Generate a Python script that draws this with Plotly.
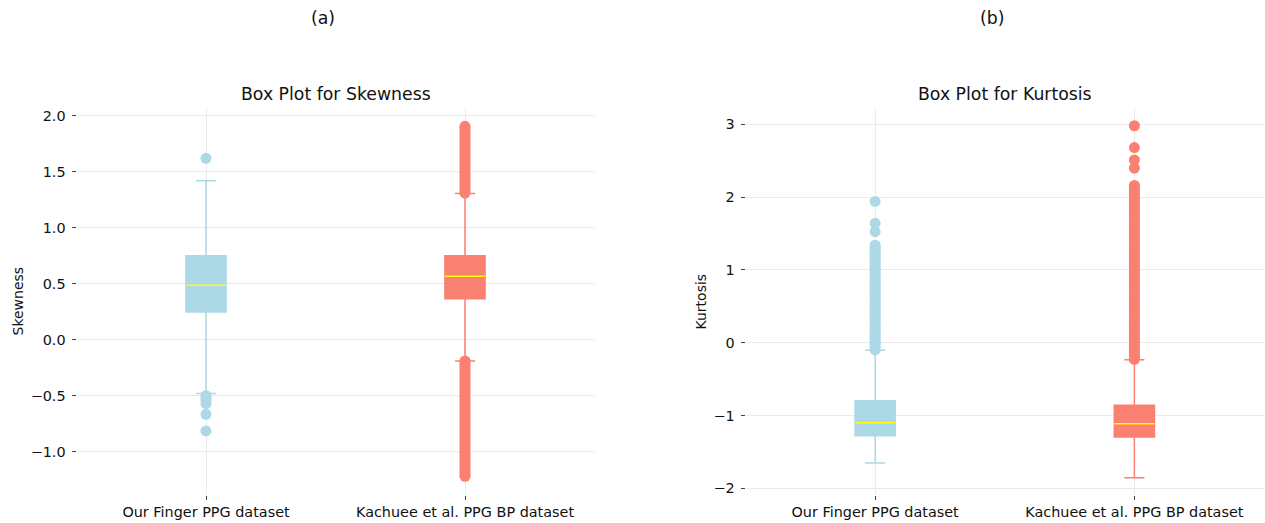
import plotly.graph_objects as go

# ---- data -------------------------------------------------------------
datasets = ["Our Finger PPG dataset", "Kachuee et al. PPG BP dataset"]
box_colors = ["#ADD8E6", "#FA8072"]

# Skewness: box statistics per dataset
skew_q1 = [0.247, 0.366]
skew_median = [0.486, 0.566]
skew_q3 = [0.750, 0.750]
skew_low = [-0.480, -0.190]
skew_high = [1.420, 1.305]

# Skewness outliers
skew_out_finger = [1.62, -0.50, -0.52, -0.54, -0.57, -0.666, -0.815]
skew_out_kachuee = [
    1.31, 1.33, 1.35, 1.37, 1.39, 1.41, 1.43, 1.45, 1.47, 1.49, 1.51, 1.53,
    1.55, 1.57, 1.59, 1.61, 1.63, 1.65, 1.67, 1.69, 1.71, 1.73, 1.75, 1.77,
    1.79, 1.81, 1.83, 1.85, 1.87, 1.89, 1.905,
    -0.19, -0.21, -0.23, -0.25, -0.27, -0.29, -0.31, -0.33, -0.35, -0.37,
    -0.39, -0.41, -0.43, -0.45, -0.47, -0.49, -0.51, -0.53, -0.55, -0.57,
    -0.59, -0.61, -0.63, -0.65, -0.67, -0.69, -0.71, -0.73, -0.75, -0.77,
    -0.79, -0.81, -0.83, -0.85, -0.87, -0.89, -0.91, -0.93, -0.95, -0.97,
    -0.99, -1.01, -1.03, -1.05, -1.07, -1.09, -1.11, -1.13, -1.15, -1.17,
    -1.19, -1.21, -1.22,
]

# Kurtosis: box statistics per dataset
kurt_q1 = [-1.277, -1.295]
kurt_median = [-1.099, -1.113]
kurt_q3 = [-0.797, -0.860]
kurt_low = [-1.652, -1.854]
kurt_high = [-0.104, -0.234]

# Kurtosis outliers
kurt_out_finger = [
    -0.10, -0.07, -0.04, -0.01, 0.02, 0.05, 0.08, 0.11, 0.14, 0.17, 0.20,
    0.23, 0.26, 0.29, 0.32, 0.35, 0.38, 0.41, 0.44, 0.47, 0.50, 0.53, 0.56,
    0.59, 0.62, 0.65, 0.68, 0.71, 0.74, 0.77, 0.80, 0.83, 0.86, 0.89, 0.92,
    0.95, 0.98, 1.01, 1.04, 1.07, 1.10, 1.13, 1.16, 1.19, 1.22, 1.25, 1.28,
    1.31, 1.34, 1.525, 1.64, 1.94,
]
kurt_out_kachuee = [
    -0.23, -0.20, -0.17, -0.14, -0.11, -0.08, -0.05, -0.02, 0.01, 0.04, 0.07,
    0.10, 0.13, 0.16, 0.19, 0.22, 0.25, 0.28, 0.31, 0.34, 0.37, 0.40, 0.43,
    0.46, 0.49, 0.52, 0.55, 0.58, 0.61, 0.64, 0.67, 0.70, 0.73, 0.76, 0.79,
    0.82, 0.85, 0.88, 0.91, 0.94, 0.97, 1.00, 1.03, 1.06, 1.09, 1.12, 1.15,
    1.18, 1.21, 1.24, 1.27, 1.30, 1.33, 1.36, 1.39, 1.42, 1.45, 1.48, 1.51,
    1.54, 1.57, 1.60, 1.63, 1.66, 1.69, 1.72, 1.75, 1.78, 1.81, 1.84, 1.87,
    1.90, 1.93, 1.96, 1.99, 2.02, 2.05, 2.08, 2.11, 2.14, 2.16,
    2.40, 2.51, 2.68, 2.98,
]

panel_titles = ["Box Plot for Skewness", "Box Plot for Kurtosis"]
panel_tags = ["(a)", "(b)"]
y_titles = ["Skewness", "Kurtosis"]

# ---- styling ----------------------------------------------------------
FONT = "DejaVu Sans"
TEXT = "#111111"
GRID = "#ebebeb"
BOX_W = 0.155
MARKER = 11

W, H = 1265, 523
plot_top, plot_bot = 108, 495
y_dom = [1 - plot_bot / H, 1 - plot_top / H]
x_doms = [[76.5 / W, 594.5 / W], [745.5 / W, 1264 / W]]

fig = go.Figure()

panels = [
    (skew_q1, skew_median, skew_q3, skew_low, skew_high,
     [skew_out_finger, skew_out_kachuee]),
    (kurt_q1, kurt_median, kurt_q3, kurt_low, kurt_high,
     [kurt_out_finger, kurt_out_kachuee]),
]

for p, (q1, med, q3, lo, hi, outs) in enumerate(panels):
    xa = "x" if p == 0 else "x2"
    ya = "y" if p == 0 else "y2"
    for i, name in enumerate(datasets):
        pos = i + 1
        col = box_colors[i]
        fig.add_trace(go.Box(
            x=[pos], q1=[q1[i]], median=[med[i]], q3=[q3[i]],
            lowerfence=[lo[i]], upperfence=[hi[i]],
            width=BOX_W, whiskerwidth=0.5, boxpoints=False,
            fillcolor=col, line=dict(color=col, width=1.5),
            xaxis=xa, yaxis=ya, name=name, showlegend=False,
        ))
        # median line in yellow across the box
        fig.add_trace(go.Scatter(
            x=[pos - BOX_W / 2, pos + BOX_W / 2], y=[med[i], med[i]],
            mode="lines", line=dict(color="#FFFF00", width=1.5),
            xaxis=xa, yaxis=ya, showlegend=False, hoverinfo="skip",
        ))
        # outliers
        fig.add_trace(go.Scatter(
            x=[pos] * len(outs[i]), y=outs[i], mode="markers",
            marker=dict(color=col, size=MARKER, line=dict(width=0)),
            xaxis=xa, yaxis=ya, showlegend=False,
        ))

axis_common = dict(
    showgrid=True, gridcolor=GRID, gridwidth=1, zeroline=False,
    showline=False, ticks="outside", ticklen=4, tickwidth=1,
    tickcolor="#444444", tickfont=dict(family=FONT, size=14.4, color=TEXT),
)

fig.update_layout(
    width=W, height=H, margin=dict(l=0, r=0, t=0, b=0),
    plot_bgcolor="white", paper_bgcolor="white", showlegend=False,
    font=dict(family=FONT, color=TEXT),
    xaxis=dict(domain=x_doms[0], range=[0.5, 2.5], tickvals=[1, 2],
               ticktext=datasets, anchor="y", **axis_common),
    xaxis2=dict(domain=x_doms[1], range=[0.5, 2.5], tickvals=[1, 2],
                ticktext=datasets, anchor="y2", **axis_common),
    yaxis=dict(domain=y_dom, range=[-1.387, 2.069],
               tickvals=[-1.0, -0.5, 0.0, 0.5, 1.0, 1.5, 2.0],
               ticktext=["\u22121.0", "\u22120.5", "0.0", "0.5", "1.0", "1.5", "2.0"],
               anchor="x", ticklabelstandoff=3, **axis_common),
    yaxis2=dict(domain=y_dom, range=[-2.092, 3.224],
                tickvals=[-2, -1, 0, 1, 2, 3],
                ticktext=["\u22122", "\u22121", "0", "1", "2", "3"],
                anchor="x2", ticklabelstandoff=3, **axis_common),
)

annotations = []
centers = [(x_doms[0][0] + x_doms[0][1]) / 2, (x_doms[1][0] + x_doms[1][1]) / 2]
for p in range(2):
    annotations.append(dict(
        text=panel_titles[p], x=centers[p], y=1 - 94 / H, xref="paper",
        yref="paper", xanchor="center", yanchor="middle", showarrow=False,
        font=dict(family=FONT, size=17.3, color=TEXT),
    ))
    annotations.append(dict(
        text=panel_tags[p], x=centers[p] - 13 / W, y=1 - 18 / H,
        xref="paper", yref="paper", xanchor="center", yanchor="middle",
        showarrow=False, font=dict(family=FONT, size=17.3, color=TEXT),
    ))
ylab_x = [17 / W, 700 / W]
for p in range(2):
    annotations.append(dict(
        text=y_titles[p], x=ylab_x[p], y=(y_dom[0] + y_dom[1]) / 2,
        xref="paper", yref="paper", xanchor="center", yanchor="middle",
        textangle=-90, showarrow=False,
        font=dict(family=FONT, size=14, color=TEXT),
    ))
fig.update_layout(annotations=annotations)

fig.write_html("out.html")
